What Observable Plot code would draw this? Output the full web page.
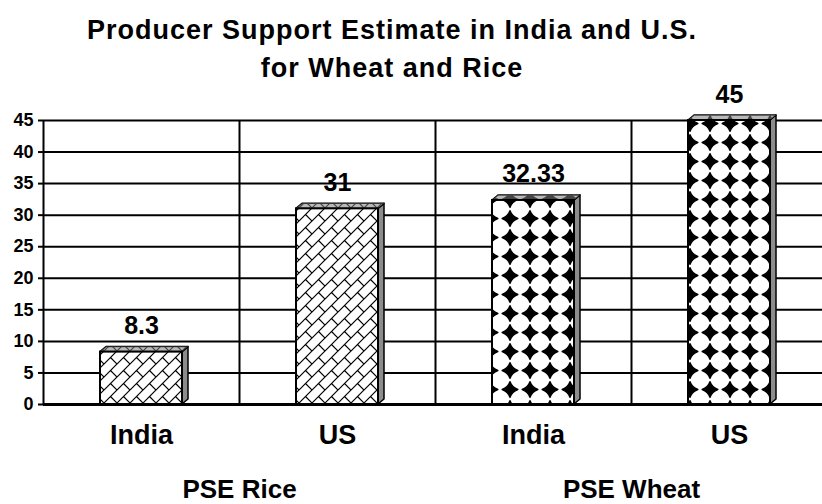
<!DOCTYPE html>
<html>
<head>
<meta charset="utf-8">
<script src="https://cdn.jsdelivr.net/npm/d3@7"></script>
<script src="https://cdn.jsdelivr.net/npm/@observablehq/plot@0.6"></script>
<style>
  html, body { margin: 0; padding: 0; background: #fff; }
  #wrap { position: relative; width: 822px; height: 504px; overflow: hidden; font-family: "Liberation Sans", Arial, sans-serif; }
  .title { position: absolute; left: 0; width: 784px; text-align: center; font-weight: bold; font-size: 27px; line-height: 27px; letter-spacing: 1px; color: #000; white-space: nowrap; }
</style>
</head>
<body>
<div id="wrap">
  <div class="title" style="top:17px">Producer Support Estimate in India and U.S.</div>
  <div class="title" style="top:55px">for Wheat and Rice</div>
</div>
<script>
// ---- data ----
const categories = ["India", "US", "India", "US"];
const crops = ["Rice", "Rice", "Wheat", "Wheat"];
const values = [8.3, 31, 32.33, 45];
const groupLabels = ["PSE Rice", "PSE Wheat"];
const yTicks = [0, 5, 10, 15, 20, 25, 30, 35, 40, 45];

const rows = categories.map((c, i) => ({i, country: c, crop: crops[i], value: values[i]}));
const groups = groupLabels.map((g, k) => ({label: g, pos: 2 * k + 1}));
const bounds = [0, 1, 2, 3];

const INSET = 57, DX = 6, DY = 5;
const patternFill = d => d.crop === "Rice" ? "url(#rice)" : "url(#wheat)";

// 3D side/top faces, positioned from the library's scaled channels
function faces(index, scales, v) {
  const g = d3.create("svg:g");
  for (const i of index) {
    const L = v.x1[i] + INSET, R = v.x2[i] - INSET;
    const T = Math.min(v.y1[i], v.y2[i]), B = Math.max(v.y1[i], v.y2[i]);
    const fill = rows[i].crop === "Rice" ? "url(#rice)" : "url(#wheat)";
    g.append("path").attr("d", `M${R},${B}L${R + DX},${B - DY}L${R + DX},${T - DY}L${R},${T}Z`)
      .attr("fill", "#8c8c8c").attr("stroke", "#000").attr("stroke-width", 1.5).attr("stroke-linejoin", "round");
    g.append("path").attr("d", `M${L},${T}L${L + DX},${T - DY}L${R + DX},${T - DY}L${R},${T}Z`)
      .attr("fill", fill).attr("stroke", "#000").attr("stroke-width", 1.5).attr("stroke-linejoin", "round");
    g.append("path").attr("d", `M${L},${T}L${L + DX},${T - DY}L${R + DX},${T - DY}L${R},${T}Z`)
      .attr("fill", "#808080").attr("fill-opacity", 0.55);
  }
  return g.node();
}

const chart = Plot.plot({
  width: 822,
  height: 504,
  marginTop: 120,
  marginBottom: 100,
  marginLeft: 43,
  marginRight: 0,
  style: {fontFamily: "'Liberation Sans', Arial, sans-serif", fontWeight: "bold", color: "#000", background: "#fff", overflow: "visible"},
  x: {domain: [0, 4], range: [43, 827], axis: null},
  y: {domain: [0, 45], axis: null},
  color: {type: "identity"},
  marks: [
    Plot.ruleY(yTicks.filter(t => t > 0), {stroke: "#000", strokeWidth: 2}),
    Plot.ruleX(bounds, {y1: 0, y2: 45, stroke: "#000", strokeWidth: 2}),
    Plot.axisY({ticks: yTicks, tickSize: 5, tickPadding: 5, fontSize: 18, fontWeight: "bold", strokeWidth: 2, label: null}),
    Plot.rectY(rows, {x1: d => d.i, x2: d => d.i + 1, y: "value", render: faces}),
    Plot.rectY(rows, {x1: d => d.i, x2: d => d.i + 1, y: "value", insetLeft: INSET, insetRight: INSET,
      fill: patternFill, stroke: "#000", strokeWidth: 2}),
    Plot.ruleY([0], {stroke: "#000", strokeWidth: 3}),
    Plot.text(rows, {x: d => d.i + 0.5, y: "value", text: d => String(d.value), dy: -18, lineAnchor: "bottom",
      fontSize: 25, fontWeight: "bold", fill: "#000"}),
    Plot.text(rows, {x: d => d.i + 0.5, y: 0, text: "country", dy: 39, lineAnchor: "bottom",
      fontSize: 27, fontWeight: "bold", fill: "#000"}),
    Plot.text(groups, {x: "pos", y: 0, text: "label", dy: 93, lineAnchor: "bottom",
      fontSize: 26, fontWeight: "bold", fill: "#000"})
  ]
});

// pattern definitions
const defs = d3.select(chart).insert("defs", ":first-child");
const rice = defs.append("pattern").attr("id", "rice").attr("patternUnits", "userSpaceOnUse")
  .attr("width", 13).attr("height", 13);
rice.append("rect").attr("width", 13).attr("height", 13).attr("fill", "#fff");
rice.append("path").attr("d", "M-1,14L14,-1M-2,2L2,-2M11,15L15,11M6.5,6.5L13,13")
  .attr("stroke", "#000").attr("stroke-width", 1.2).attr("fill", "none");

const wheat = defs.append("pattern").attr("id", "wheat").attr("patternUnits", "userSpaceOnUse")
  .attr("width", 20).attr("height", 19);
wheat.append("rect").attr("width", 20).attr("height", 19).attr("fill", "#fff");
wheat.append("path")
  .attr("d", "M10,1.8Q12,7.5 17.8,9.5Q12,11.5 10,17.2Q8,11.5 2.2,9.5Q8,7.5 10,1.8Z")
  .attr("fill", "#000").attr("stroke", "#000").attr("stroke-width", 1.5).attr("stroke-linejoin", "round");

document.getElementById("wrap").prepend(chart);
chart.style.position = "absolute";
chart.style.left = "0";
chart.style.top = "0";
</script>
</body>
</html>
